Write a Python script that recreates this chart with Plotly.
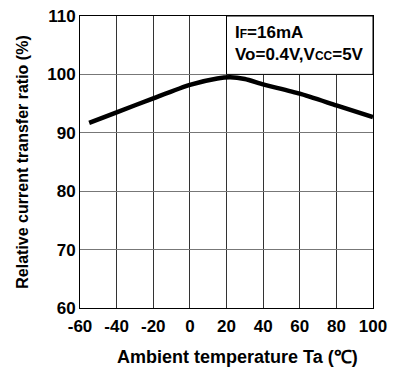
import plotly.graph_objects as go

temperature = [-55, -40, -20, 0, 15, 22, 30, 40, 60, 80, 100]
ratio = [91.7, 93.5, 95.9, 98.2, 99.3, 99.5, 99.2, 98.3, 96.7, 94.7, 92.7]

x_ticks = [-60, -40, -20, 0, 20, 40, 60, 80, 100]
y_ticks = [60, 70, 80, 90, 100, 110]

FONT = "Liberation Sans, Arial, sans-serif"

fig = go.Figure()
fig.add_trace(go.Scatter(
    x=temperature, y=ratio, mode="lines",
    line=dict(color="black", width=4.5, shape="spline", smoothing=0.6),
    hoverinfo="skip", showlegend=False,
))

fig.add_shape(type="rect", xref="x", yref="y", x0=20, x1=100, y0=100, y1=110,
              fillcolor="white", line=dict(color="black", width=1), layer="between")

fig.add_annotation(
    x=23.5, y=109.2, xref="x", yref="y", xanchor="left", yanchor="top",
    align="left", showarrow=False,
    text=("<b>I<span style='font-size:12px'>F</span>=16mA</b><br>"
          "<b>Vo=0.4V,V<span style='font-size:12px'>CC</span>=5V</b>"),
    font=dict(family=FONT, size=17, color="black"),
)

fig.add_annotation(
    x=0.536, y=-0.168, xref="paper", yref="paper", xanchor="center", yanchor="middle",
    showarrow=False, text="<b>Ambient temperature Ta (℃)</b>",
    font=dict(family=FONT, size=18, color="black"),
)

fig.update_layout(
    width=396, height=367,
    margin=dict(l=80, r=23, t=16, b=59, autoexpand=False),
    paper_bgcolor="white", plot_bgcolor="white",
    font=dict(family=FONT, color="black"),
)
fig.update_xaxes(
    range=[-60, 100], tickvals=x_ticks, ticktext=[f"<b>{v}</b>" for v in x_ticks],
    tickfont=dict(size=17, family=FONT), showgrid=True, gridcolor="#333333", gridwidth=1,
    showline=True, linecolor="black", linewidth=1, mirror=True, ticks="", zeroline=False,
    ticklabelstandoff=3, automargin=False,
)
fig.update_yaxes(
    range=[60, 110], tickvals=y_ticks, ticktext=[f"<b>{v}</b>" for v in y_ticks],
    tickfont=dict(size=17, family=FONT), showgrid=True, gridcolor="#777777", gridwidth=1,
    showline=True, linecolor="black", linewidth=1, mirror=True, ticks="", zeroline=False,
    automargin=False,
    title=dict(text="<b>Relative current transfer ratio (%)</b>", font=dict(size=16, family=FONT), standoff=14),
)

fig.write_html("out.html", config={"displayModeBar": False},
               post_script="document.body.style.margin='0';")
